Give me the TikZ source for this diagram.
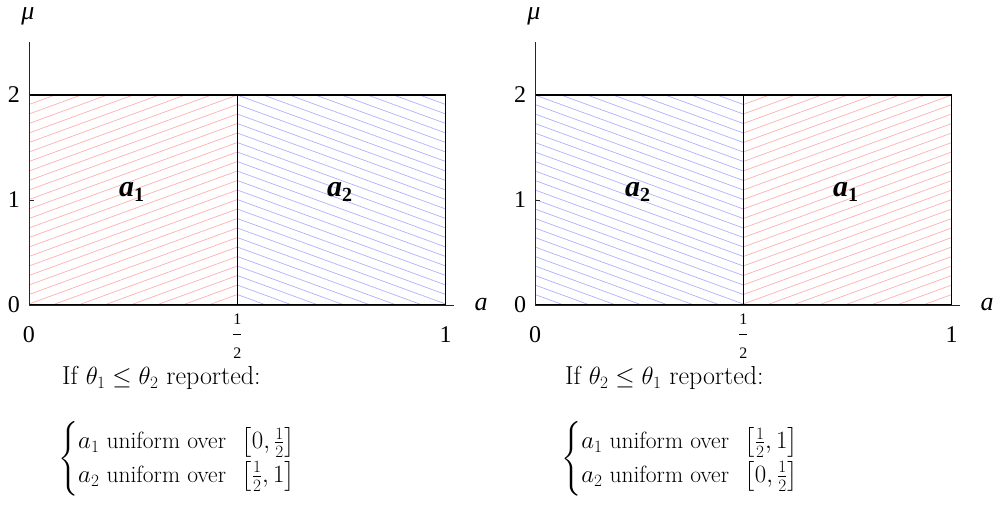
\documentclass[tikz,border=0pt]{standalone}
\usepackage{amsmath}
\usepackage{fontspec}
\newfontfamily\timesf{Liberation Serif}
\definecolor{hred}{RGB}{255,175,175}
\definecolor{hblue}{RGB}{175,175,255}
\tikzset{
  axisline/.style={draw=black!85, line width=0.9pt},
  boxline/.style={draw=black, line width=1.2pt},
  ticklab/.style={font=\timesf\fontsize{24}{24}\selectfont, inner sep=0pt},
  axlab/.style={font=\timesf\itshape\fontsize{26}{26}\selectfont, inner sep=0pt},
  reglab/.style={font=\timesf\bfseries\itshape\fontsize{30}{30}\selectfont, inner sep=0pt},
  txt/.style={font=\fontsize{26}{31}\selectfont, anchor=west, inner sep=0pt},
  casetxt/.style={font=\fontsize{23.5}{28}\selectfont, anchor=west, inner sep=0pt},
  hatchred/.style={draw=hred, line width=0.7pt},
  hatchblue/.style={draw=hblue, line width=0.7pt}
}
\newcommand\hatchregion[3]{%
  \begin{scope}
    \clip (#1,95) rectangle (#2,305);
    \ifnum#3=1
      \foreach \k in {0,...,31} \draw[hatchred] (#1,{95+\k*9.5}) -- (#2,{95+\k*9.5-76});
    \else
      \foreach \k in {0,...,31} \draw[hatchblue] (#1,{19+\k*9.5}) -- (#2,{19+\k*9.5+76});
    \fi
  \end{scope}}
\newcommand\halflab{$\displaystyle\frac{\hbox{\timesf\fontsize{16}{16}\selectfont 1}}{\hbox{\timesf\fontsize{16}{16}\selectfont 2}}$}
\newcommand\alab[1]{a\raisebox{-5pt}{\upshape\fontsize{20}{20}\selectfont #1}}
% #1 prefix, #2 x offset, #3 left red?, #4 right red?, #5 left label index, #6 right label index
\newcommand\panel[6]{%
  \begin{scope}[xshift=#2pt]
    \hatchregion{29}{237.3}{#3}
    \hatchregion{237.3}{445.7}{#4}
    \coordinate (#1o) at (29,305);
    \coordinate (#1top) at (29,42);
    \coordinate (#1xend) at (454,305);
    \coordinate (#1tl) at (29,95);
    \coordinate (#1tr) at (445.7,95);
    \coordinate (#1br) at (445.7,305);
    \coordinate (#1mt) at (237.3,95);
    \coordinate (#1mb) at (237.3,305);
    \coordinate (#1t1a) at (29,200);
    \coordinate (#1t1b) at (34,200);
    \draw[boxline] (#1tl) -- (#1tr) -- (#1br);
    \draw[boxline] (#1mt) -- (#1mb);
    \draw[boxline] (#1o) -- (#1br);
    \draw[axisline] (#1top) -- (#1o) -- (#1xend);
    \draw[axisline] (#1t1a) -- (#1t1b);
    \node[ticklab] (#1y0) at (14,305) {0};
    \node[ticklab] (#1y1) at (14,200) {1};
    \node[ticklab] (#1y2) at (14,95) {2};
    \node[ticklab] (#1x0) at (29,335) {0};
    \node[ticklab] (#1xh) at (237.3,336) {\halflab};
    \node[ticklab] (#1x1) at (445.7,335) {1};
    \node[axlab] (#1mu) at (28,16) {μ};
    \node[axlab] (#1a) at (481,305) {a};
    \node[reglab] (#1rl) at (131.5,192) {\alab{#5}};
    \node[reglab] (#1rr) at (339.5,192) {\alab{#6}};
  \end{scope}}
\begin{document}
\begin{tikzpicture}[x=1pt,y=-1pt]
  \useasboundingbox (0,0) rectangle (995,520);
  \panel{L}{0}{1}{0}{1}{2}
  \panel{R}{506}{0}{1}{2}{1}
  \node[txt] (ifL) at (62,378) {If $\theta_1 \le \theta_2$ reported:};
  \node[casetxt] (caseL) at (58,459) {$\begin{cases} a_1 \text{ uniform over }\, \left[0,\frac{1}{2}\right]\\ a_2 \text{ uniform over }\, \left[\frac{1}{2},1\right]\end{cases}$};
  \node[txt] (ifR) at (565,378) {If $\theta_2 \le \theta_1$ reported:};
  \node[casetxt] (caseR) at (561,459) {$\begin{cases} a_1 \text{ uniform over }\, \left[\frac{1}{2},1\right]\\ a_2 \text{ uniform over }\, \left[0,\frac{1}{2}\right]\end{cases}$};
\end{tikzpicture}
\end{document}
